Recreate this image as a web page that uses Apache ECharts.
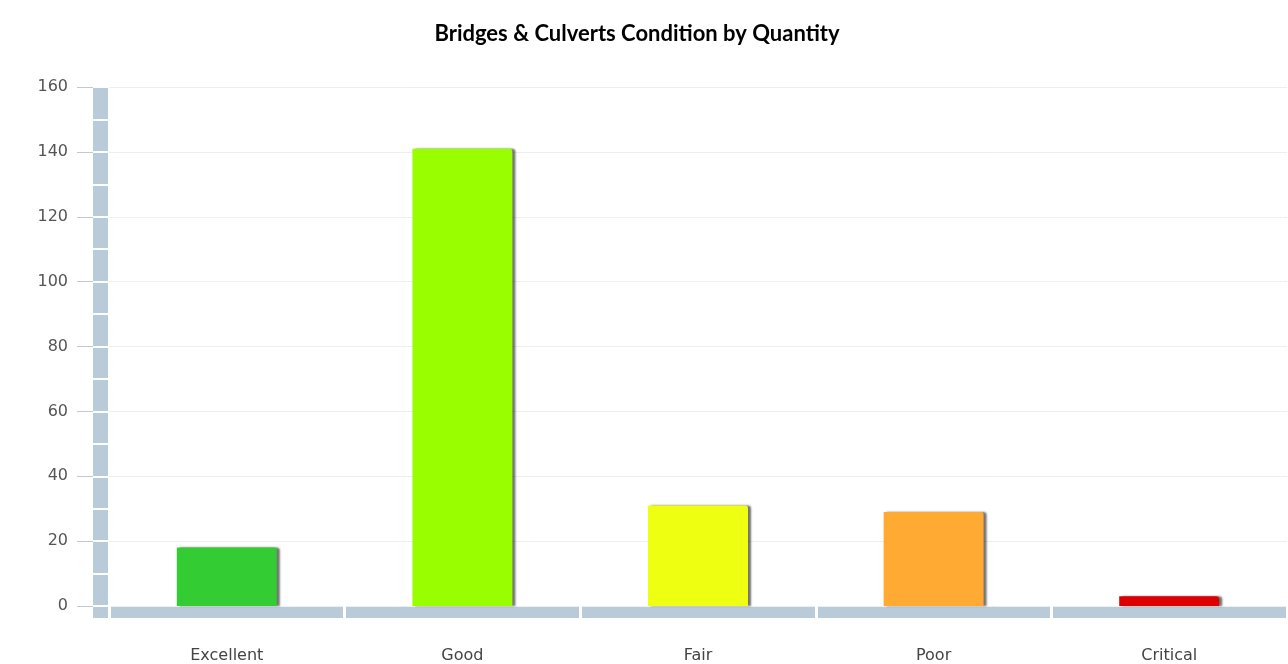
<!DOCTYPE html>
<html>
<head>
<meta charset="utf-8">
<script src="https://cdn.jsdelivr.net/npm/echarts@6/dist/echarts.min.js"></script>
<style>html,body{margin:0;padding:0;background:#fff}#c{width:1288px;height:664px}</style>
</head>
<body>
<div id="c"></div>
<script>
const categories = ['Excellent', 'Good', 'Fair', 'Poor', 'Critical'];
const values = [18, 141, 31, 29, 3];
const barColors = ['#33cc33', '#99ff00', '#eeff11', '#ffaa33', '#dd0000'];
const yTicks = [0, 20, 40, 60, 80, 100, 120, 140, 160];
const titleText = 'Bridges & Culverts Condition by Quantity';

const BAND = '#b9cad8';
const chart = echarts.init(document.getElementById('c'));
chart.setOption({
  animation: false,
  backgroundColor: '#fff',
  title: {
    text: titleText, left: 632, top: 18, textAlign: 'center',
    textStyle: { fontFamily: 'Lato', fontWeight: 'bold', fontSize: 22, color: '#000' }
  },
  grid: [
    { left: 109, right: 1, top: 87, bottom: 58 },
    { left: 109, right: 1, top: 87, bottom: 46 }
  ],
  xAxis: [
    { type: 'category', gridIndex: 0, position: 'bottom', data: categories, offset: 6, z: 1,
      axisLine: { onZero: false, lineStyle: { color: BAND, width: 12, cap: 'butt' } },
      axisTick: { show: false },
      axisLabel: { margin: 36, fontFamily: 'DejaVu Sans', fontSize: 16, color: '#444' } },
    { type: 'category', gridIndex: 0, position: 'bottom', data: categories, offset: 0, z: 4,
      axisLine: { show: false, onZero: false },
      axisTick: { show: true, length: 12, lineStyle: { color: '#fff', width: 3 } },
      axisLabel: { show: false } },
    { type: 'category', gridIndex: 1, data: categories, show: false }
  ],
  yAxis: [
    { type: 'value', gridIndex: 0, position: 'left', min: 0, max: yTicks[yTicks.length - 1], interval: 20, offset: 16, z: 2,
      axisLine: { show: false },
      axisTick: { show: true, inside: true, length: 15, lineStyle: { color: '#fff', width: 2 } },
      minorTick: { show: true, splitNumber: 2, length: 15, lineStyle: { color: '#fff', width: 2 } },
      splitLine: { show: true, lineStyle: { color: '#eeeeee', width: 1 } },
      axisLabel: { margin: 25, fontFamily: 'DejaVu Sans', fontSize: 16, color: '#555' } },
    { type: 'value', gridIndex: 0, position: 'left', min: 0, max: yTicks[yTicks.length - 1], interval: 20, offset: 16, z: 2,
      axisLine: { show: false },
      axisTick: { show: true, inside: false, length: 16, lineStyle: { color: '#c8c8c8', width: 1 } },
      splitLine: { show: false },
      axisLabel: { show: false } },
    { type: 'value', gridIndex: 1, position: 'left', min: 0, max: 1, offset: 9, z: 1,
      axisLine: { show: true, lineStyle: { color: BAND, width: 15, cap: 'butt' } },
      axisTick: { show: false }, splitLine: { show: false }, axisLabel: { show: false } }
  ],
  series: [{
    type: 'bar', xAxisIndex: 0, yAxisIndex: 0, barWidth: 100, z: 3,
    data: values.map((v, i) => ({ value: v, itemStyle: { color: barColors[i] } })),
    itemStyle: { borderRadius: [0, 3, 0, 0], shadowColor: 'rgba(0,0,0,0.55)', shadowOffsetX: 3, shadowOffsetY: 0, shadowBlur: 2 }
  }]
});
</script>
</body>
</html>
